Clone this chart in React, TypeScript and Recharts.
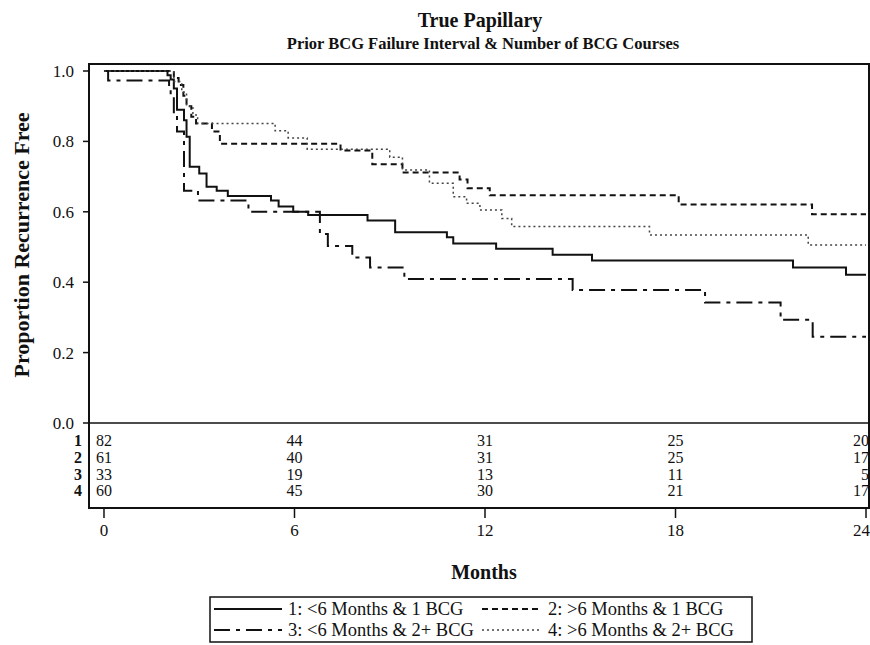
import React from 'react';
import { LineChart, Line, XAxis, YAxis, ReferenceLine, ReferenceArea, ReferenceDot } from 'recharts';

// Kaplan-Meier steps: [month, proportion recurrence free]
const group1: [number, number][] = [
  [0, 1], [2.0, 0.988], [2.1, 0.976], [2.2, 0.95], [2.3, 0.89], [2.52, 0.86], [2.6, 0.813],
  [2.7, 0.728], [3.0, 0.709], [3.23, 0.671], [3.55, 0.66], [3.9, 0.645], [5.26, 0.632],
  [5.5, 0.615], [5.96, 0.6], [6.43, 0.591], [8.3, 0.575], [9.17, 0.542], [10.8, 0.528],
  [11.0, 0.51], [12.35, 0.495], [14.13, 0.478], [15.37, 0.462], [21.7, 0.442], [23.37, 0.421],
  [24, 0.421],
];
const group2: [number, number][] = [
  [0, 1], [2.2, 0.98], [2.35, 0.96], [2.5, 0.93], [2.6, 0.9], [2.75, 0.87], [2.9, 0.851],
  [3.4, 0.828], [3.65, 0.793], [7.45, 0.774], [8.45, 0.735], [9.4, 0.712], [11.2, 0.692],
  [11.45, 0.667], [12.15, 0.647], [18.1, 0.621], [22.3, 0.593], [24, 0.593],
];
const group3: [number, number][] = [
  [0, 1], [0.13, 0.973], [2.05, 0.95], [2.1, 0.93], [2.2, 0.88], [2.3, 0.828], [2.52, 0.66],
  [2.96, 0.632], [4.55, 0.6], [6.8, 0.537], [7.05, 0.503], [7.82, 0.47], [8.38, 0.442],
  [9.46, 0.409], [14.76, 0.378], [18.93, 0.342], [21.31, 0.293], [22.32, 0.245], [24, 0.245],
];
const group4: [number, number][] = [
  [0, 1], [2.2, 0.97], [2.45, 0.94], [2.6, 0.9], [2.8, 0.875], [2.95, 0.851], [5.39, 0.83],
  [5.8, 0.81], [6.4, 0.778], [9.0, 0.755], [9.4, 0.719], [10.25, 0.681], [11.0, 0.643],
  [11.42, 0.624], [11.84, 0.605], [12.53, 0.581], [12.84, 0.558], [17.18, 0.534],
  [22.18, 0.506], [24, 0.506],
];

const groupNames = ['1: <6 Months & 1 BCG', '2: >6 Months & 1 BCG', '3: <6 Months & 2+ BCG', '4: >6 Months & 2+ BCG'];

// number at risk
const riskTimes = [0, 6, 12, 18, 24];
const risk1 = [82, 44, 31, 25, 20];
const risk2 = [61, 40, 31, 25, 17];
const risk3 = [33, 19, 13, 11, 5];
const risk4 = [60, 45, 30, 21, 17];

const xTicks = [0, 6, 12, 18, 24];
const yTicks = [0, 0.2, 0.4, 0.6, 0.8, 1.0];

const X_MIN = -0.472;
const X_MAX = 24.094;
const Y_MIN = -0.2415;
const Y_MAX = 1.0199;
const FONT = '"Liberation Serif", "Times New Roman", serif';

const toRows = (pts: [number, number][]) => pts.map(([m, s]) => ({ m, s }));

const styles = [
  { dash: undefined, width: 2, color: '#111' },
  { dash: '6 4', width: 2, color: '#111' },
  { dash: '16 6 4 6', width: 2, color: '#111' },
  { dash: '2 3', width: 1.5, color: '#444' },
];

const series = [group1, group2, group3, group4];
const riskRows = [risk1, risk2, risk3, risk4];
const rowY = [-0.051, -0.099, -0.145, -0.193];

const RiskText = (value: string, bold: boolean, anchor: string, dx: number) => (props: any) => (
  <text
    x={props.cx + dx}
    y={props.cy}
    textAnchor={anchor}
    dominantBaseline="central"
    fontFamily={FONT}
    fontSize={16}
    fontWeight={bold ? 'bold' : 'normal'}
    fill="#111"
  >
    {value}
  </text>
);

export default function App() {
  return (
    <div style={{ position: 'absolute', left: 0, top: 0, width: 870, height: 645, background: '#fff', fontFamily: FONT }}>
      <LineChart width={870} height={645} margin={{ top: 64, right: 1, left: 0, bottom: 107 }}>
        <XAxis
          type="number"
          dataKey="m"
          domain={[X_MIN, X_MAX]}
          allowDataOverflow
          ticks={xTicks}
          height={30}
          tickSize={10}
          tickMargin={6}
          axisLine={{ stroke: '#111', strokeWidth: 2 }}
          tickLine={{ stroke: '#111', strokeWidth: 1.5 }}
          tick={{ fill: '#111', fontSize: 17, fontFamily: FONT }}
        />
        <YAxis
          type="number"
          domain={[Y_MIN, Y_MAX]}
          allowDataOverflow
          ticks={yTicks}
          width={89}
          tickSize={6}
          tickMargin={9}
          tickFormatter={(v: number) => v.toFixed(1)}
          axisLine={{ stroke: '#111', strokeWidth: 2 }}
          tickLine={{ stroke: '#111', strokeWidth: 1.5 }}
          tick={{ fill: '#111', fontSize: 17, fontFamily: FONT }}
        />
        <ReferenceArea x1={X_MIN} x2={X_MAX} y1={Y_MIN} y2={Y_MAX} fill="none" stroke="#111" strokeWidth={2} />
        <ReferenceLine y={0} stroke="#111" strokeWidth={1.5} />
        {series.map((pts, i) => (
          <Line
            key={i}
            data={toRows(pts)}
            dataKey="s"
            type="stepAfter"
            stroke={styles[i].color}
            strokeWidth={styles[i].width}
            strokeDasharray={styles[i].dash}
            dot={false}
            activeDot={false}
            isAnimationActive={false}
          />
        ))}
        {riskRows.map((row, r) => (
          <ReferenceDot
            key={`lab-${r}`}
            x={X_MIN}
            y={rowY[r]}
            r={0}
            shape={RiskText(String(r + 1), true, 'end', -7)}
          />
        ))}
        {riskRows.map((row, r) =>
          row.map((n, k) => {
            const last = k === riskTimes.length - 1;
            return (
              <ReferenceDot
                key={`risk-${r}-${k}`}
                x={riskTimes[k]}
                y={rowY[r]}
                r={0}
                shape={RiskText(String(n), false, last ? 'end' : 'middle', last ? 3 : 0)}
              />
            );
          })
        )}
      </LineChart>
      <svg width={870} height={645} style={{ position: 'absolute', left: 0, top: 0, pointerEvents: 'none' }}>
        <text x={480} y={20} textAnchor="middle" dominantBaseline="central" fontFamily={FONT} fontWeight="bold" fontSize={20} fill="#111">
          True Papillary
        </text>
        <text x={483} y={43} textAnchor="middle" dominantBaseline="central" fontFamily={FONT} fontWeight="bold" fontSize={16.5} fill="#111">
          Prior BCG Failure Interval &amp; Number of BCG Courses
        </text>
        <text
          x={21}
          y={245}
          transform="rotate(-90 21 245)"
          textAnchor="middle"
          dominantBaseline="central"
          fontFamily={FONT}
          fontWeight="bold"
          fontSize={22}
          fill="#111"
        >
          Proportion Recurrence Free
        </text>
        <text x={484} y={572} textAnchor="middle" dominantBaseline="central" fontFamily={FONT} fontWeight="bold" fontSize={20} fill="#111">
          Months
        </text>
        <rect x={210} y={597} width={542} height={45} fill="none" stroke="#111" strokeWidth={1.5} />
        {groupNames.map((name, i) => {
          const col = i % 2;
          const row = Math.floor(i / 2);
          const y = 609 + row * 21;
          const lx = col === 0 ? 214 : 482;
          const lw = col === 0 ? 68 : 58;
          const tx = col === 0 ? 288 : 548;
          return (
            <g key={name}>
              <line x1={lx} x2={lx + lw} y1={y} y2={y} stroke={styles[i].color} strokeWidth={styles[i].width} strokeDasharray={styles[i].dash} />
              <text x={tx} y={y} dominantBaseline="central" fontFamily={FONT} fontSize={18.5} fill="#111">
                {name}
              </text>
            </g>
          );
        })}
      </svg>
    </div>
  );
}
